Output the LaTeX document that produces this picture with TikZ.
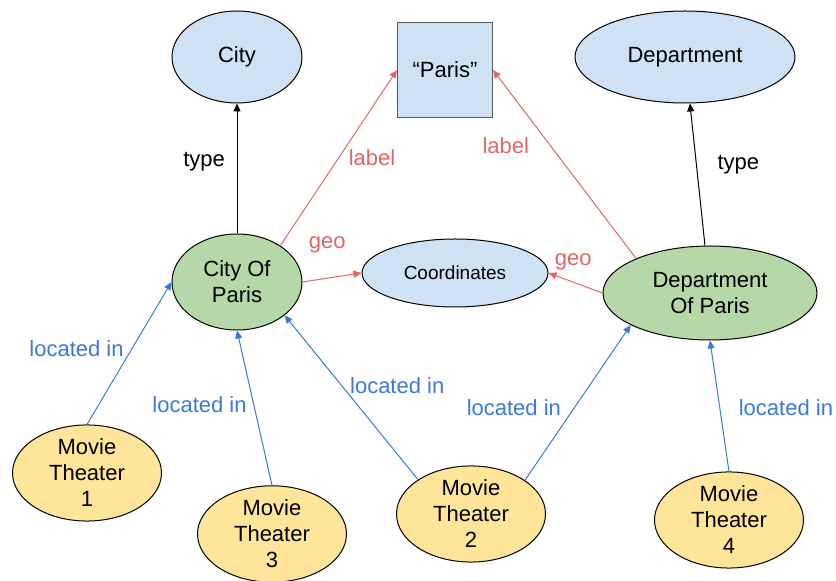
\documentclass[tikz,border=0pt]{standalone}
\usepackage{fontspec}
\setmainfont{Liberation Sans}
\usetikzlibrary{shapes.geometric,arrows.meta}
\definecolor{clsfill}{HTML}{CFE2F3}
\definecolor{entfill}{HTML}{B6D7A8}
\definecolor{movfill}{HTML}{FFE599}
\definecolor{relred}{HTML}{E06666}
\definecolor{relblue}{HTML}{3C78D8}

\begin{document}
\begin{tikzpicture}[x=0.5pt, y=-0.5pt, font=\fontsize{11}{13}\selectfont, line width=0.5pt, >={Triangle[length=4pt, width=3.5pt]},
        cls/.style = {draw, ellipse, fill=clsfill, inner sep=0pt},
        ent/.style = {draw, ellipse, fill=entfill, align=center, inner sep=0pt},
        mov/.style = {draw, ellipse, fill=movfill, align=center, inner sep=0pt, minimum width=74.5pt, minimum height=47pt},
        lit/.style = {draw=black!65, rectangle, fill=clsfill, minimum size=47.5pt},
        typ/.style = {->, black},
        lbl/.style = {->, relred},
        loc/.style = {->, relblue}]
                \useasboundingbox (0,0) rectangle (836,581);
                \node[cls, minimum width=65pt, minimum height=46pt] (c0) at (237,57) {City};
                \node[lit] (p0) at (445,70) {“Paris”};
                \node[cls, minimum width=110pt, minimum height=46pt] (d0) at (685,57) {Department};
                \node[ent, minimum width=65pt, minimum height=48pt] (cp) at (237,282) {City Of\\Paris};
                \node[cls, minimum width=93pt, minimum height=34pt, font=\fontsize{9.5}{11}\selectfont] (co) at (455,273) {Coordinates};
                \node[ent, minimum width=107pt, minimum height=47pt] (dp) at (710,293) {Department\\Of Paris};
                \node[mov] (m1) at (87,473) {Movie\\Theater\\1};
                \node[mov] (m3) at (272,534) {Movie\\Theater\\3};
                \node[mov] (m2) at (471,514) {Movie\\Theater\\2};
                \node[mov] (m4) at (729,520) {Movie\\Theater\\4};
                \draw[typ] (cp) -- node[pos=0.55, left=2.5pt] {type} (c0);
                \draw[typ] (dp) -- node[pos=0.57, right=7pt] {type} (d0);
                \draw[lbl] (cp.40) -- node[pos=0.5, right=1.5pt] {label} (p0.west);
                \draw[lbl] (dp.155) -- node[pos=0.6, left=7pt] {label} (p0.east);
                \draw[lbl] (cp.east) -- node[pos=0.42, above=9pt] {geo} (co.west);
                \draw[lbl] (dp.west) -- node[pos=0.54, above=2.5pt] {geo} (co.east);
                \draw[loc] (m1.north) -- node[pos=0.53, left=0.5pt] {located in} (cp.west);
                \draw[loc] (m3.north) -- node[pos=0.52, left=0pt] {located in} (cp.south);
                \draw[loc] (m2.147) -- node[pos=0.57, right=0.5pt] {located in} (cp.-35);
                \draw[loc] (m2.32) -- node[pos=0.465, left=3pt] {located in} (dp.202);
                \draw[loc] (m4.north) -- node[pos=0.49, right=6pt] {located in} (dp.south);
            \end{tikzpicture}
\end{document}
